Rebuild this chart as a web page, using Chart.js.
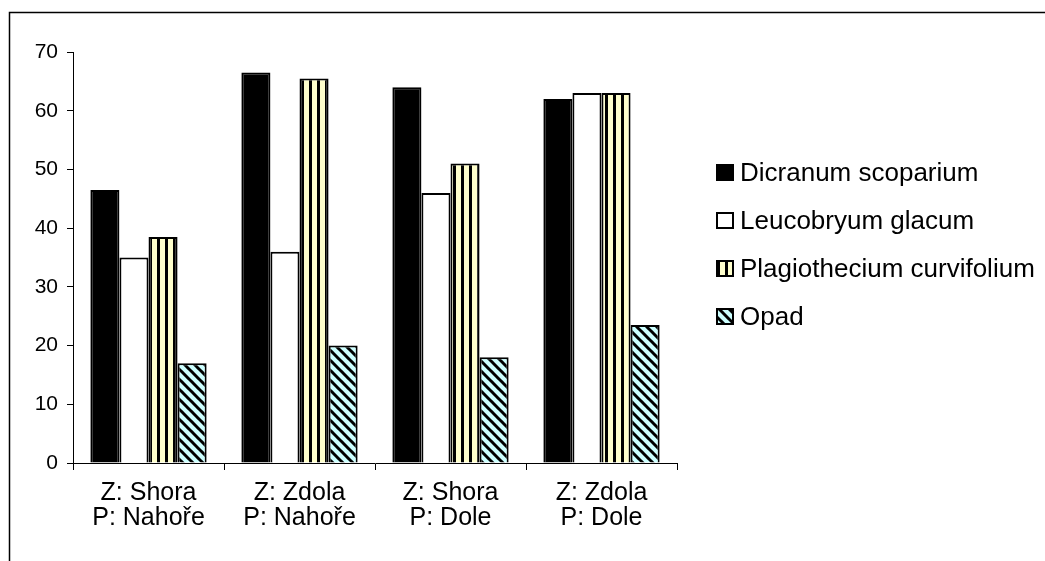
<!DOCTYPE html>
<html>
<head>
<meta charset="utf-8">
<script src="https://cdn.jsdelivr.net/npm/chart.js@4"></script>
<style>
  html, body { margin: 0; padding: 0; background: #fff; }
  #wrap { width: 1045px; height: 561px; }
</style>
</head>
<body>
<div id="wrap"><canvas id="myChart" width="1045" height="561"></canvas></div>
<script>
// Chart data
const categories = [
  ["Z: Shora", "P: Nahoře"],
  ["Z: Zdola", "P: Nahoře"],
  ["Z: Shora", "P: Dole"],
  ["Z: Zdola", "P: Dole"],
];
const seriesNames = [
  "Dicranum scoparium",
  "Leucobryum glacum",
  "Plagiothecium curvifolium",
  "Opad",
];
const dicranum = [46.5, 66.5, 64, 62];
const leucobryum = [35, 36, 46, 63];
const plagiothecium = [38.5, 65.5, 51, 63];
const opad = [17, 20, 18, 23.5];
const yTicks = [0, 10, 20, 30, 40, 50, 60, 70];

const fontFamily = "'Liberation Sans', Arial, sans-serif";

// Vertical black stripes on light yellow
function verticalStripes(bg) {
  const c = document.createElement("canvas");
  c.width = 8;
  c.height = 8;
  const g = c.getContext("2d");
  g.fillStyle = bg;
  g.fillRect(0, 0, 8, 8);
  g.fillStyle = "#000";
  g.fillRect(5, 0, 3, 8);
  return g.createPattern(c, "repeat");
}

// Diagonal black stripes (top-left to bottom-right) on light cyan
function diagonalStripes(bg) {
  const c = document.createElement("canvas");
  c.width = 10;
  c.height = 10;
  const g = c.getContext("2d");
  g.fillStyle = bg;
  g.fillRect(0, 0, 10, 10);
  g.strokeStyle = "#000";
  g.lineWidth = 3;
  for (let k = -10; k <= 10; k += 10) {
    g.beginPath();
    g.moveTo(k - 1, -1);
    g.lineTo(k + 11, 11);
    g.stroke();
  }
  return g.createPattern(c, "repeat");
}

const fills = [
  "#000000",
  "#ffffff",
  verticalStripes("#ffffcc"),
  diagonalStripes("#ccffff"),
];
const seriesValues = [dicranum, leucobryum, plagiothecium, opad];

// Outer frame of the chart object
const framePlugin = {
  id: "frame",
  beforeDraw(chart) {
    const ctx = chart.ctx;
    ctx.save();
    ctx.fillStyle = "#fff";
    ctx.fillRect(0, 0, chart.width, chart.height);
    ctx.strokeStyle = "#000";
    ctx.lineWidth = 1.5;
    ctx.strokeRect(9.5, 12.5, chart.width + 20, chart.height + 20);
    ctx.restore();
  },
};

// Legend drawn at the right, Excel style
const legendPlugin = {
  id: "sideLegend",
  afterDraw(chart) {
    const ctx = chart.ctx;
    const rows = [173, 221, 269, 317];
    ctx.save();
    ctx.font = "26px " + fontFamily;
    ctx.textBaseline = "middle";
    chart.data.datasets.forEach((ds, i) => {
      const y = rows[i];
      ctx.fillStyle = ds.backgroundColor;
      ctx.fillRect(717, y - 8, 16, 15);
      ctx.strokeStyle = "#000";
      ctx.lineWidth = 2;
      ctx.strokeRect(717, y - 8, 16, 15);
      ctx.fillStyle = "#000";
      ctx.fillText(ds.label, 740, y + 1);
    });
    ctx.restore();
  },
};

const ctx = document.getElementById("myChart");

const chartData = {
  labels: categories,
  datasets: seriesNames.map((name, i) => ({
    label: name,
    data: seriesValues[i],
    backgroundColor: fills[i],
    borderColor: "#000",
    borderWidth: 2,
    borderSkipped: "bottom",
    categoryPercentage: 0.77,
    barPercentage: 1.0,
  })),
};

const options = {
  responsive: false,
  animation: false,
  layout: {
    padding: { left: 0, top: 52, right: 368, bottom: 0 },
  },
  plugins: {
    legend: { display: false },
    tooltip: { enabled: false },
  },
  scales: {
    x: {
      grid: {
        display: true,
        offset: true,
        drawOnChartArea: false,
        drawTicks: true,
        tickLength: 7,
        tickColor: "#000",
      },
      border: { color: "#000", width: 1 },
      ticks: {
        color: "#000",
        font: { family: fontFamily, size: 25, lineHeight: 1.0 },
        padding: 11,
        maxRotation: 0,
        autoSkip: false,
      },
      afterFit(scale) {
        scale.height = 98;
      },
    },
    y: {
      min: 0,
      max: 70,
      afterBuildTicks(scale) {
        scale.ticks = yTicks.map((v) => ({ value: v }));
      },
      grid: {
        display: true,
        drawOnChartArea: false,
        drawTicks: true,
        tickLength: 6,
        tickColor: "#000",
      },
      border: { color: "#000", width: 1 },
      ticks: {
        color: "#000",
        font: { family: fontFamily, size: 21 },
        padding: 9,
      },
      afterFit(scale) {
        scale.width = 73;
      },
    },
  },
};

new Chart(ctx, {
  type: "bar",
  data: chartData,
  options: options,
  plugins: [framePlugin, legendPlugin],
});
</script>
</body>
</html>
